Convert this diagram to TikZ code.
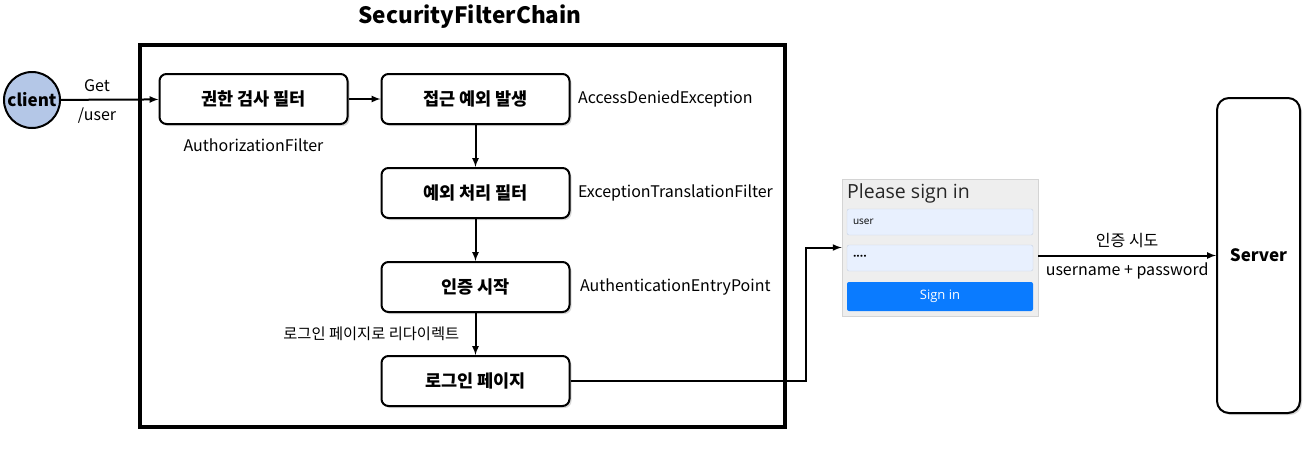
\documentclass[tikz,border=0pt]{standalone}
\usepackage{fontspec}
\setmainfont{Noto Sans CJK KR}
\newfontfamily\formfont{Open Sans}
\usetikzlibrary{positioning, shadows}

\definecolor{clientblue}{HTML}{B4C7E7}
\definecolor{formgray}{HTML}{EEEEEE}
\definecolor{formedge}{HTML}{D4D4D4}
\definecolor{fieldblue}{HTML}{E8F0FE}
\definecolor{fieldedge}{HTML}{C9D3E3}
\definecolor{buttonblue}{HTML}{0A7BFF}

\begin{document}
\begin{tikzpicture}[> = latex, x = 1pt, y = -1pt,
	softshadow/.style = {drop shadow = {shadow xshift = 2pt, shadow yshift = -2pt, opacity = 0.3}},
	filterbox/.style = {draw, line width = 2pt, rounded corners = 7pt, fill = white,
		minimum width = 188pt, minimum height = 50pt, softshadow,
		font = \fontsize{17.5}{20}\selectfont\bfseries},
	classlabel/.style = {font = \fontsize{16}{18}\selectfont},
	flow/.style = {->, line width = 2pt},
	field/.style = {draw = fieldedge, fill = fieldblue, rounded corners = 2pt,
		minimum width = 186pt, minimum height = 26pt, inner xsep = 6pt,
		font = \formfont\fontsize{10}{12}\selectfont}]

	% Bounding box

	\useasboundingbox (0, 0) rectangle (1315, 451);

	% Filter chain frame

	\node [font = \fontsize{22.5}{26}\selectfont\bfseries] (title) at (470, 17) {SecurityFilterChain};
	\draw [line width = 3.2pt, softshadow, fill = white] (140, 45) rectangle (785, 427);

	% Client

	\node [circle, draw, line width = 2pt, fill = clientblue, minimum size = 56pt, inner sep = 0pt,
		font = \fontsize{17}{19}\selectfont\bfseries] (client) at (32, 100) {client};

	% Filters

	\node [filterbox] (authz) at (253.5, 99) {권한 검사 필터};
	\node [filterbox, right = 32pt of authz] (denied) {접근 예외 발생};
	\node [filterbox, below = 42pt of denied] (translate) {예외 처리 필터};
	\node [filterbox, below = 42pt of translate] (entry) {인증 시작};
	\node [filterbox, below = 42pt of entry] (loginpage) {로그인 페이지};

	\node [classlabel, below = 10pt of authz] (authzname) {AuthorizationFilter};
	\node [classlabel, right = 4pt of denied] (deniedname) {AccessDeniedException};
	\node [classlabel, right = 4pt of translate] (translatename) {ExceptionTranslationFilter};
	\node [classlabel, right = 6pt of entry] (entryname) {AuthenticationEntryPoint};

	% Login form

	\node [draw = formedge, fill = formgray, line width = 0.8pt, minimum width = 196pt,
		minimum height = 137pt] (form) at (940, 247.5) {};
	\node [anchor = west, inner sep = 0pt, text = black!85, font = \formfont\fontsize{19.5}{22}\selectfont]
		(formtitle) at (847, 193) {Please sign in};
	\node [field, text width = 174pt] (userfield) at (940, 222) {user};
	\node [field, text width = 174pt, font = \formfont\fontsize{12}{12}\selectfont\bfseries] (passfield) at (940, 258) {····};
	\node [fill = buttonblue, rounded corners = 2pt, minimum width = 186pt, minimum height = 29pt,
		text = white, font = \formfont\fontsize{13}{15}\selectfont] (signin) at (940, 296.5) {Sign in};

	% Server

	\node [draw, line width = 2pt, rounded corners = 12pt, fill = white, softshadow,
		minimum width = 83pt, minimum height = 315pt,
		font = \fontsize{17}{19}\selectfont\bfseries] (server) at (1258.5, 255.5) {Server};

	% Connectors

	\draw [flow] (client) -- node [pos = 0.37, above = 4pt, classlabel] {Get}
		node [pos = 0.37, below = 4pt, classlabel] {/user} (authz);
	\draw [flow] (authz) -- (denied);
	\draw [flow] (denied) -- (translate);
	\draw [flow] (translate) -- (entry);
	\draw [flow] (entry) -- node [left = 12pt, font = \fontsize{15.3}{17}\selectfont] {로그인 페이지로 리다이렉트} (loginpage);
	\draw [flow] (loginpage.east) -| ([xshift = -36pt] form.west) -- (form.west);
	\draw [flow] (form.east |- server.west) -- node [above = 3pt, classlabel] {인증 시도}
		node [below = 3pt, classlabel] {username + password} (server.west);

\end{tikzpicture}
\end{document}
